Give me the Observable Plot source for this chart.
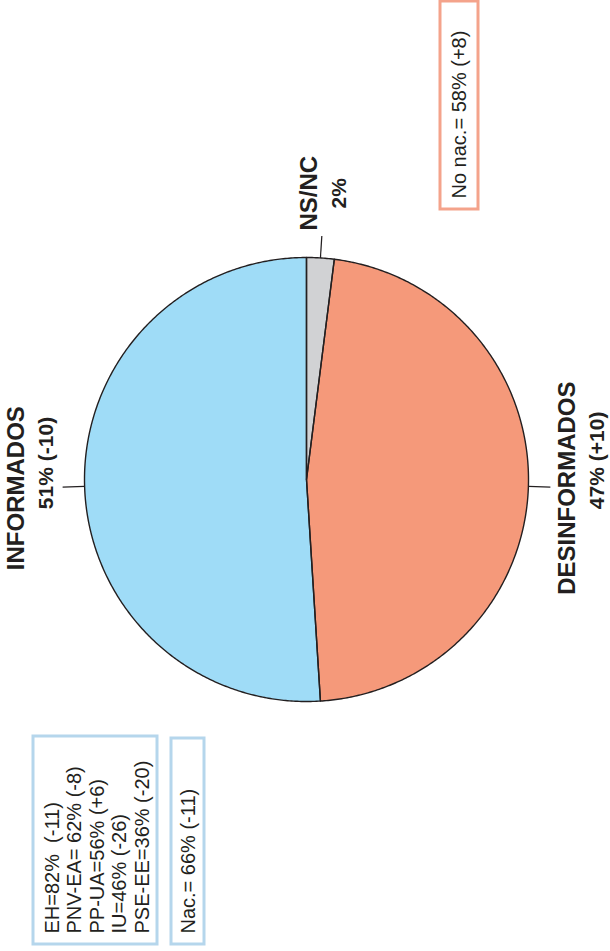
<!DOCTYPE html>
<html><head><meta charset="utf-8">
<script src="https://cdn.jsdelivr.net/npm/d3@7"></script>
<script src="https://cdn.jsdelivr.net/npm/@observablehq/plot@0.6"></script>
<style>html,body{margin:0;padding:0;background:#fff} svg{display:block}</style>
</head><body><div id="chart"></div>
<script>
// ---- data ----
const categories = ["NS/NC", "DESINFORMADOS", "INFORMADOS"];
const shares = [2, 47, 51];
const shareLabels = ["2%", "47%", "51%"];
const changes = ["", "(+10)", "(-10)"];
const sliceColors = ["#d1d2d4", "#f5997a", "#9fdcf7"];

const regionalLines = ["EH=82%  (-11)", "PNV-EA= 62% (-8)", "PP-UA=56% (+6)", "IU=46% (-26)", "PSE-EE=36% (-20)"];
const nationalInformed = ["Nac.= 66% (-11)"];
const nationalUninformed = ["No nac.= 58% (+8)"];

// ---- layout ----
const W = 610, H = 951;
const cx = 306, cy = 479, R = 222;
const ink = "#231f20";
const font = "Liberation Sans, Arial, Helvetica, sans-serif";
const blueBox = "#b5d6ec", salmonBox = "#f4a38b";
const tickLen = 22, labelGap = 4, lineGap = 15, blockHalf = 25;
const titleSize = 24, valueSize = 21, boxSize = 20;

const ctx = document.createElement("canvas").getContext("2d");
function textWidth(s, size, weight) { ctx.font = `${weight} ${size}px ${font}`; return ctx.measureText(s).width; }

const pie = d3.pie().sort(null).value((d) => d.share).startAngle(0).endAngle(2 * Math.PI);
const rows = categories.map((c, i) => ({cat: c, share: shares[i], label: shareLabels[i], change: changes[i]}));
const arcs = pie(rows).map((a) => ({...a.data, a0: a.startAngle, a1: a.endAngle, mid: (a.startAngle + a.endAngle) / 2}));

const px = (ang, r) => cx + r * Math.sin(ang);
const py = (ang, r) => cy - r * Math.cos(ang);

const piePts = arcs.flatMap((a) => {
  const n = Math.max(4, Math.ceil((a.a1 - a.a0) / (Math.PI / 360)));
  const pts = [{cat: a.cat, x: cx, y: cy}];
  for (let k = 0; k <= n; ++k) { const t = a.a0 + (a.a1 - a.a0) * k / n; pts.push({cat: a.cat, x: px(t, R), y: py(t, R)}); }
  pts.push({cat: a.cat, x: cx, y: cy});
  return pts;
});

const labels = arcs.map((a) => {
  const vw = textWidth(a.label, valueSize, "bold");
  const tw = textWidth(a.cat, titleSize, "bold");
  const halfLen = Math.max(tw, vw) / 2;
  const ext = Math.abs(Math.sin(a.mid)) * blockHalf + Math.abs(Math.cos(a.mid)) * halfLen;
  const d = R + tickLen + labelGap + ext;
  return {...a, lx: px(a.mid, d), ly: py(a.mid, d), vw};
});

const boxes = [
  {x1: 33, x2: 157, y1: 736, y2: 944, stroke: blueBox},
  {x1: 171, x2: 204, y1: 738, y2: 944, stroke: blueBox},
  {x1: 440, x2: 478, y1: 1, y2: 209, stroke: salmonBox}
];

const chart = Plot.plot({
  width: W, height: H,
  margin: 0,
  x: {domain: [0, W], range: [0, W], axis: null},
  y: {domain: [0, H], range: [0, H], axis: null},
  color: {domain: categories, range: sliceColors},
  style: {fontFamily: font, background: "#fff"},
  marks: [
    Plot.line(piePts, {x: "x", y: "y", z: "cat", fill: "cat", stroke: null}),
    Plot.line(piePts, {x: "x", y: "y", z: "cat", stroke: ink, strokeWidth: 1.4, strokeLinejoin: "round"}),
    Plot.link(labels, {x1: (d) => px(d.mid, R), y1: (d) => py(d.mid, R), x2: (d) => px(d.mid, R + tickLen), y2: (d) => py(d.mid, R + tickLen), stroke: ink, strokeWidth: 1.2}),
    Plot.text(labels, {x: (d) => d.lx - lineGap, y: "ly", text: "cat", rotate: -90, fontSize: titleSize, fontWeight: "bold", fill: ink, textAnchor: "middle"}),
    Plot.text(labels, {x: (d) => d.lx + lineGap, y: "ly", text: "label", rotate: -90, fontSize: valueSize, fontWeight: "bold", fill: ink, textAnchor: "middle"}),
    Plot.text(labels.filter((d) => d.change), {x: (d) => d.lx + lineGap, y: (d) => d.ly - d.vw / 2 - 6, text: "change", rotate: -90, fontSize: valueSize, fontWeight: "bold", fill: ink, textAnchor: "start"}),
    Plot.rect(boxes, {x1: "x1", x2: "x2", y1: "y1", y2: "y2", fill: "none", stroke: "stroke", strokeWidth: 3}),
    Plot.text(regionalLines, {x: (d, i) => 52 + i * 22.5, y: () => 933, text: (d) => d, rotate: -90, fontSize: boxSize, fill: ink, textAnchor: "start"}),
    Plot.text(nationalInformed, {x: () => 188, y: () => 933, text: (d) => d, rotate: -90, fontSize: boxSize, fill: ink, textAnchor: "start"}),
    Plot.text(nationalUninformed, {x: () => 459, y: () => 198, text: (d) => d, rotate: -90, fontSize: boxSize, fill: ink, textAnchor: "start"})
  ]
});
document.getElementById("chart").append(chart);
</script>
</body></html>
